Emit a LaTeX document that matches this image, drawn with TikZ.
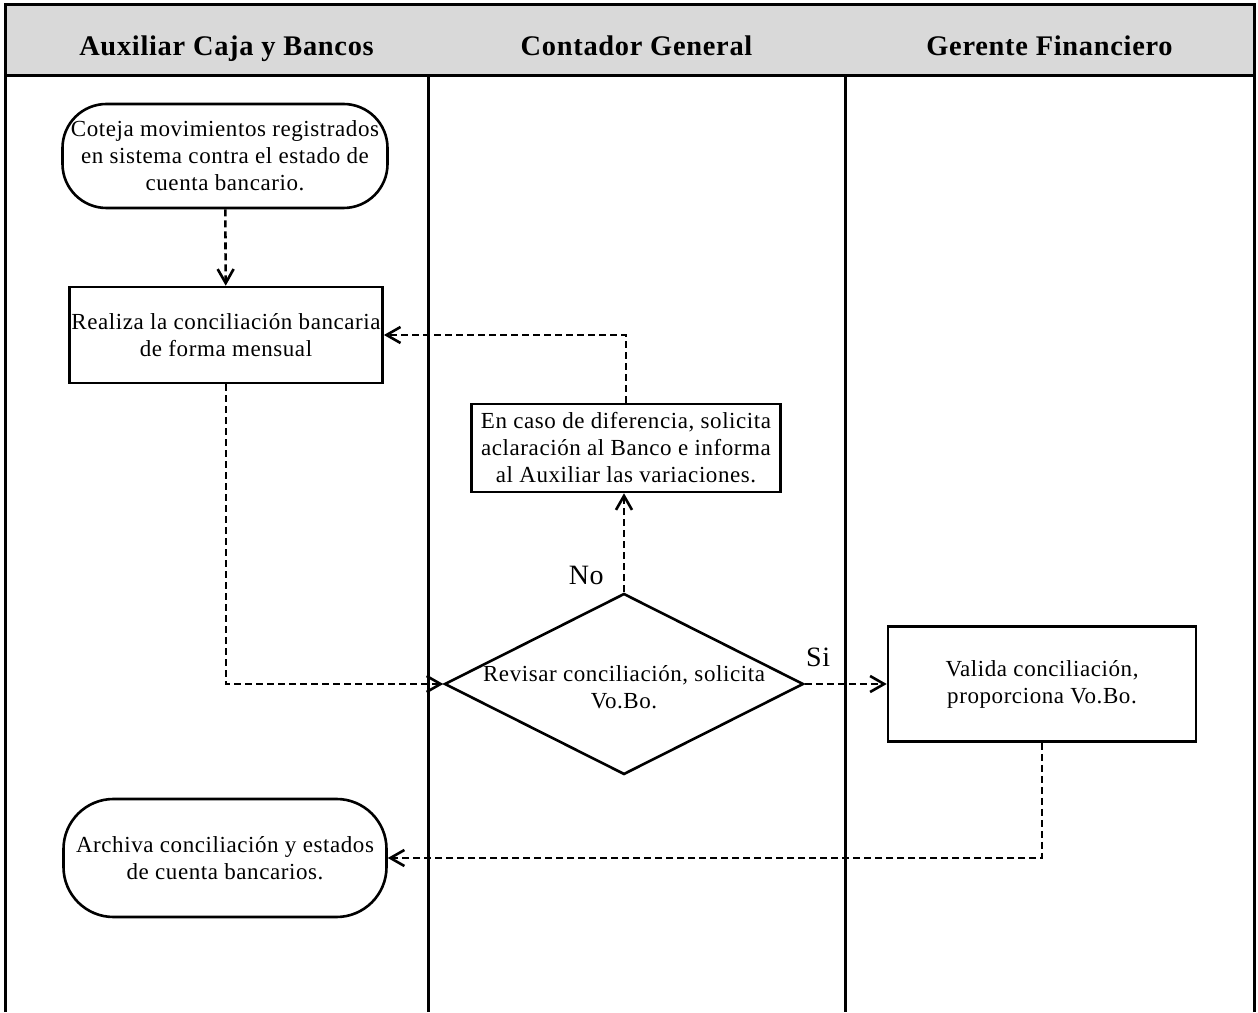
\documentclass[tikz,border=0pt]{standalone}
\usepackage{fontspec}
\setmainfont{Liberation Serif}[LetterSpace=2.5]
\usetikzlibrary{arrows.meta,positioning,shapes.geometric}
\definecolor{HeaderGray}{RGB}{217,217,217}
\newcommand\bodytext{\fontsize{11.5}{13.5}\selectfont}
\tikzset{
  lane/.style={line width=1.5pt},
  header/.style={font=\fontsize{14.2}{16}\selectfont\bfseries,inner sep=0pt,anchor=base},
  terminal/.style={draw,rounded corners=22pt,line width=1.3pt,
    align=center,font=\bodytext,inner sep=1pt},
  activity/.style={draw,line width=1.3pt,align=center,font=\bodytext,
    inner sep=1pt},
  decision/.style={diamond,draw,line width=1.3pt,inner sep=0pt,
    minimum width=179.5pt,minimum height=90.5pt},
  answer/.style={font=\fontsize{14}{16}\selectfont,inner sep=0pt},
  flow/.style={-{Straight Barb[length=7pt,width=8pt]},line width=1.3pt,
    dash pattern=on 3.5pt off 2pt}
}

\begin{document}
\begin{tikzpicture}[x=0.5pt,y=0.5pt]
  \useasboundingbox (0,0) rectangle (1258,1012);
  % lanes
  \fill[HeaderGray] (5,936) rectangle (1254,1007);
  \draw[lane] (5,0) -- (5,1007) -- (1254,1007) -- (1254,0);
  \draw[lane] (5,936) -- (1254,936);
  \draw[lane] (428,936) -- (428,0);
  \draw[lane] (845,936) -- (845,0);
  \node[header] (hdaux) at (226.5,956) {Auxiliar Caja y Bancos};
  \node[header] (hdcont) at (636.5,956) {Contador General};
  \node[header] (hdger) at (1049.5,956) {Gerente Financiero};

  % steps
  \node[terminal,minimum width=162.5pt,minimum height=52pt] (coteja) at (225,856)
    {Coteja movimientos registrados\\en sistema contra el estado de\\cuenta bancario.};
  \node[activity,minimum width=156.5pt,minimum height=48pt] (realiza) at (226,677)
    {Realiza la conciliación bancaria\\de forma mensual};
  \node[activity,minimum width=154.5pt,minimum height=44pt] (encaso) at (626,564)
    {En caso de diferencia, solicita\\aclaración al Banco e informa\\al Auxiliar las variaciones.};
  \node[decision] (revisar) at (624,328) {};
  \node[align=center,font=\bodytext,inner sep=0pt] (revisartxt) at ([yshift=-1.5pt]revisar.center)
    {Revisar conciliación, solicita\\Vo.Bo.};
  \node[activity,minimum width=154pt,minimum height=57.5pt] (valida) at (1042,328)
    {Valida conciliación,\\proporciona Vo.Bo.};
  \node[terminal,rounded corners=25pt,minimum width=161.5pt,minimum height=59pt] (archiva) at (225,154)
    {Archiva conciliación y estados\\de cuenta bancarios.};

  % connectors
  \draw[flow] (coteja) -- (realiza);
  \draw[flow] (realiza.south) |- (revisar.west);
  \draw[flow] (revisar.north) -- (revisar.north |- encaso.south)
    node[answer,pos=0.17,left=9.5pt] (lblno) {No};
  \draw[flow] (encaso.north) |- (realiza.east);
  \draw[flow] (revisar.east) -- (valida.west)
    node[answer,pos=0,above right=8pt and 0pt] (lblsi) {Si};
  \draw[flow] (valida.south) |- (archiva.east);
\end{tikzpicture}
\end{document}
